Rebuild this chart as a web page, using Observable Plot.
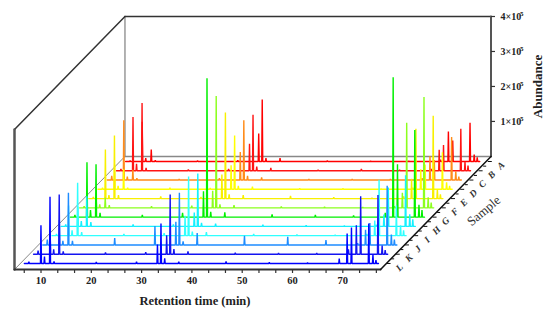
<!DOCTYPE html>
<html>
<head>
<meta charset="utf-8">
<script src="https://cdn.jsdelivr.net/npm/d3@7"></script>
<script src="https://cdn.jsdelivr.net/npm/@observablehq/plot@0.6"></script>
<style>
html,body{margin:0;padding:0;background:#fff}
svg{display:block}
</style>
</head>
<body>
<div id="chart"></div>
<script>
const sampleNames = ["A","B","C","D","E","F","G","H","I","J","K","L"];
const sampleColors = ["#ff0000","#ff1414","#ff8c1a","#ffff00","#f8f000","#8cff1e","#00f000","#14f0ff","#30ffff","#1e8cff","#1414f0","#0000ff"];
const peakTimes = [6.4,8.8,9.5,10.6,11.4,19.8,27.8,31.96,32.66,33.4,36.2,45.6,54.2,61.8,68.1,69.67,70.53,73.97,74.8,75.4];
const sampleA = [.03,1.14,.1,.34,.04,.03,.04,.8,1.77,.1,.1,.03,.02,.02,.05,.86,.6,1.11,.2,.12];
const sampleB = [.05,1.54,.2,1.94,.08,.04,.05,.77,1.6,.12,.08,.03,.05,.03,.05,.6,.74,1.2,.25,.15];
const sampleC = [.12,1.71,.1,.29,.05,.03,.05,.8,1.71,.12,.08,.03,.03,.03,.05,.69,.57,1.23,.25,.1];
const sampleD = [.05,.71,.1,.57,.05,.05,.04,.69,1.54,.1,.08,.03,.03,.02,.05,.57,.71,1.06,.2,.1];
const sampleE = [.05,1.4,.1,1.8,.1,.06,.05,.69,2.46,.12,.1,.08,.04,.02,.06,.57,2,2.37,.25,.12];
const sampleF = [.05,.23,.1,.29,.08,.05,.06,.49,3.2,.1,.08,.04,.03,.02,.05,.43,2.43,3.17,.3,.15];
const sampleG = [.06,1.57,.2,1.51,.12,.06,.12,.74,3.97,.15,.14,.08,.06,.05,.12,4,1.51,2.49,.35,.2];
const sampleH = [.06,.57,.15,.86,.12,.06,.06,.4,1.51,.1,.08,.05,.03,.02,.05,.34,1.11,1.46,.35,.2];
const sampleI = [.05,.86,.15,1.51,.1,.05,.07,.57,1.69,.12,.1,.05,.03,.02,.05,.43,1.6,.86,.3,.15];
const sampleJ = [.15,.71,.12,1.49,.12,.2,.54,.66,1.49,.1,.34,.26,.23,.14,.05,.43,.63,1.69,.3,.15];
const sampleK = [.1,.57,.14,1.71,.08,.05,.06,.54,1.71,.15,.08,.04,.03,.03,.14,.83,1.66,1.69,.25,.12];
const sampleL = [.05,1.09,.2,1.91,.06,.04,.05,.54,1.14,.15,.05,.06,.03,.02,.14,.86,1.03,1.14,.25,.1];
const sampleHeights = [sampleA,sampleB,sampleC,sampleD,sampleE,sampleF,sampleG,sampleH,sampleI,sampleJ,sampleK,sampleL];
const runStart = 5.5, runEnd = 75.9;
const majorTimeTicks = [10,20,30,40,50,60,70];
const minorTimeTicks = [6.67,13.33,16.67,23.33,26.67,33.33,36.67,43.33,46.67,53.33,56.67,63.33,66.67,73.33,76.67];
const abundanceTicks = [1,2,3,4];
const F = "'Liberation Serif',serif";

// Waterfall projection: each sample sits deeper in the box.
const stepX = 1.83, stepY = 0.265, backX = 12, backY = 12.2;
const depthOf = i => 11.65 - i;
const px = (t,d) => t + d*stepX;
const py = (a,d) => a - (backY - d)*stepY;
const tMin = 4.73, tMax = 77.5, xEnd = tMin + 94.63;

const points = sampleNames.flatMap((sample,i) => {
  const d = depthOf(i);
  const rows = [{t:runStart,a:0}];
  peakTimes.forEach((t,j) => rows.push({t:t-.1,a:0},{t,a:sampleHeights[i][j]},{t:t+.1,a:0}));
  rows.push({t:runEnd,a:0});
  return rows.map(r => ({sample,X:px(r.t,d),Y:py(r.a,d)}));
});
const corner = (t,d,a=0) => ({X:px(t,d===1?backX:0),Y:py(a,d===1?backY:0)});
const edge = (a,b,opts) => Plot.line([a,b],{x:"X",y:"Y",...opts});
const ticksRows = sampleNames.map((sample,i) => ({sample,X:px(tMax,depthOf(i)),Y:py(0,depthOf(i))}));
const minorDepthRows = sampleNames.slice(1).map((s,i) => ({X:px(tMax,depthOf(i)-.5),Y:py(0,depthOf(i)-.5)}));

const chart = Plot.plot({
  width:550,height:310,marginLeft:14,marginRight:60,marginTop:16,marginBottom:41,
  style:{background:"#fff",fontFamily:F},
  x:{domain:[tMin,xEnd],axis:null},
  y:{domain:[py(0,0),4],axis:null},
  color:{domain:sampleNames,range:sampleColors},
  marks:[
    edge(corner(tMin,1),corner(tMin,1,4),{stroke:"#999",strokeWidth:1.5}),
    edge(corner(tMin,1),corner(tMax,1),{stroke:"#888",strokeWidth:1.5}),
    edge(corner(tMin,0),corner(tMin,1),{stroke:"#888",strokeWidth:1}),
    edge(corner(tMin,1,4),corner(tMax,1,4),{stroke:"#333",strokeWidth:1.5}),
    edge(corner(tMin,0,4),corner(tMin,1,4),{stroke:"#333",strokeWidth:1.5}),
    edge(corner(tMax,1),corner(tMax,1,4),{stroke:"#555",strokeWidth:2}),
    Plot.line(points,{x:"X",y:"Y",stroke:"sample",strokeWidth:1.4,strokeLinejoin:"miter"}),
    edge(corner(tMin,0),corner(tMin,0,4),{stroke:"#555",strokeWidth:2.5}),
    edge(corner(tMin,0),corner(tMax,0),{stroke:"#333",strokeWidth:2}),
    edge(corner(tMax,0),corner(tMax,1),{stroke:"#111",strokeWidth:1.5}),
    Plot.axisX(minorTimeTicks,{anchor:"bottom",tickSize:4,tickFormat:()=>"",label:null,stroke:"#333",strokeWidth:1.2}),
    Plot.axisX(majorTimeTicks,{anchor:"bottom",tickSize:4,tickPadding:3,label:null,fontSize:10.5,fontWeight:"bold",fontFamily:F,fill:"#222",stroke:"#333",strokeWidth:1.2}),
    Plot.axisY(abundanceTicks,{anchor:"right",tickSize:4,tickPadding:6,label:null,tickFormat:d=>d+"×10",fontSize:10,fontWeight:"bold",fontFamily:F,fill:"#222",stroke:"#333",strokeWidth:1.2}),
    Plot.text(abundanceTicks,{x:()=>xEnd,y:d=>d,text:()=>"5",dx:29.5,dy:-3,textAnchor:"start",fontSize:7,fontWeight:"bold",fontFamily:F,fill:"#222"}),
    Plot.link(ticksRows,{x1:"X",y1:"Y",x2:d=>d.X+.8,y2:"Y",stroke:"#111",strokeWidth:1}),
    Plot.link(minorDepthRows,{x1:"X",y1:"Y",x2:d=>d.X+.6,y2:"Y",stroke:"#111",strokeWidth:1}),
    Plot.text(ticksRows,{x:"X",y:"Y",text:"sample",dx:13,dy:4,rotate:-45,fontSize:9.5,fontWeight:"bold",fontStyle:"italic",fontFamily:F,fill:"#333"}),
    Plot.text(["Retention time (min)"],{x:()=>40.6,y:()=>py(0,0),dy:31,fontSize:12.5,fontWeight:"bold",fontFamily:F,fill:"#222"}),
    Plot.text(["Abundance"],{x:()=>xEnd,y:()=>2,dx:47,rotate:-90,fontSize:13,fontWeight:"bold",fontFamily:F,fill:"#222"}),
    Plot.text(["Sample"],{x:()=>px(tMax,6),y:()=>py(0,6),dx:48,dy:-3,rotate:-40,fontSize:13,fontFamily:F,fill:"#333"})
  ]
});
document.getElementById("chart").appendChild(chart);
</script>
</body>
</html>
